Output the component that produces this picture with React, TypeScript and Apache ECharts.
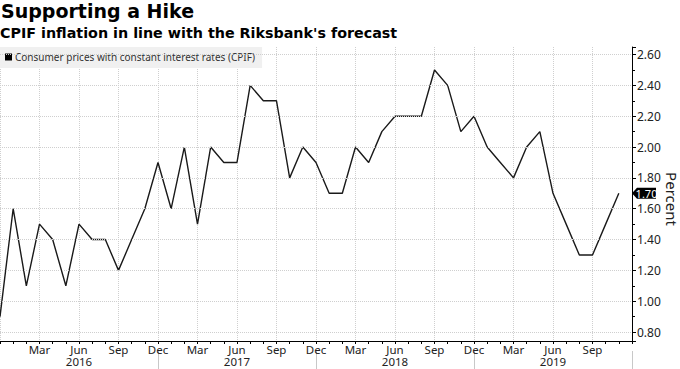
import React, { useEffect, useRef } from "react";
import * as echarts from "echarts";

const TITLE = "Supporting a Hike";
const SUBTITLE = "CPIF inflation in line with the Riksbank's forecast";
const SERIES_NAME = "Consumer prices with constant interest rates (CPIF)";
const Y_NAME = "Percent";

const MONTH_NAMES = ["Jan", "Feb", "Mar", "Apr", "May", "Jun", "Jul", "Aug", "Sep", "Oct", "Nov", "Dec"];
// Axis runs Dec 2015 .. Dec 2019 (49 monthly slots)
const START_YEAR = 2015;
const START_MONTH = 11;
const SLOT_COUNT = 49;
const months: string[] = [];
for (let i = 0; i < SLOT_COUNT; i++) {
  const m = (START_MONTH + i) % 12;
  const y = START_YEAR + Math.floor((START_MONTH + i) / 12);
  months.push(MONTH_NAMES[m] + " " + y);
}

// CPIF, Dec 2015 .. Nov 2019
const cpif = [
  0.9, 1.6, 1.1, 1.5, 1.4, 1.1, 1.5, 1.4, 1.4, 1.2, 1.4, 1.6,
  1.9, 1.6, 2.0, 1.5, 2.0, 1.9, 1.9, 2.4, 2.3, 2.3, 1.8, 2.0,
  1.9, 1.7, 1.7, 2.0, 1.9, 2.1, 2.2, 2.2, 2.2, 2.5, 2.4, 2.1,
  2.2, 2.0, 1.9, 1.8, 2.0, 2.1, 1.7, 1.5, 1.3, 1.3, 1.5, 1.7,
];

const yTicks = [0.8, 1.0, 1.2, 1.4, 1.6, 1.8, 2.0, 2.2, 2.4, 2.6];
const Y_MIN = 0.742;
const Y_MAX = 2.649;

export default function App() {
  const ref = useRef<HTMLDivElement>(null);

  useEffect(() => {
    if (!ref.current) return;
    const chart = echarts.init(ref.current, undefined, { renderer: "svg" });
    const last = cpif[cpif.length - 1];
    const font = "Noto Sans";

    chart.setOption({
      animation: false,
      backgroundColor: "#fff",
      textStyle: { fontFamily: font },
      title: [
        {
          text: TITLE,
          left: 1,
          top: 1,
          padding: 0,
          textStyle: { fontFamily: "DejaVu Sans", fontWeight: "bold", fontSize: 19, color: "#000" },
        },
        {
          text: SUBTITLE,
          left: 0,
          top: 26,
          padding: 0,
          textStyle: { fontFamily: "DejaVu Sans", fontWeight: "bold", fontSize: 14.3, color: "#000" },
        },
      ],
      legend: {
        left: 0,
        top: 47,
        padding: [5, 7, 6, 5],
        backgroundColor: "#f0f0f0",
        icon: "rect",
        itemWidth: 7,
        itemHeight: 7,
        itemGap: 4,
        textStyle: { fontFamily: font, fontSize: 10, color: "#333", padding: [0, 0, 0, -2] },
        data: [SERIES_NAME],
      },
      grid: {
        left: 0,
        right: 48,
        top: 47,
        bottom: 28,
        containLabel: false,
        outerBoundsMode: "none",
      },
      xAxis: [
        {
          type: "category",
          data: months,
          boundaryGap: false,
          axisLine: { show: true, lineStyle: { color: "#000", width: 1 } },
          axisTick: { show: true, interval: 0, length: 3, lineStyle: { color: "#000" } },
          axisLabel: {
            interval: (i: number) => i > 0 && i < SLOT_COUNT - 1 && i % 3 === 0,
            formatter: (v: string) => v.split(" ")[0],
            fontSize: 11.5,
            lineHeight: 11,
            color: "#222",
            margin: 3,
          },
          splitLine: {
            show: true,
            interval: (i: number) => i % 3 === 0,
            lineStyle: { type: "dotted", color: "#cfcfcf", width: 1 },
          },
        },
        {
          type: "category",
          data: months,
          boundaryGap: false,
          position: "bottom",
          offset: 10,
          axisLine: { show: false },
          axisTick: {
            show: true,
            interval: (i: number) => i > 0 && i % 12 === 0,
            length: 18,
            lineStyle: { color: "#c8c8c8" },
          },
          axisLabel: {
            interval: (i: number) => i % 12 === 6,
            formatter: (v: string) => v.split(" ")[1],
            fontSize: 11.5,
            lineHeight: 11,
            color: "#222",
            margin: 5,
          },
          splitLine: { show: false },
        },
      ],
      yAxis: {
        type: "value",
        position: "right",
        min: Y_MIN,
        max: Y_MAX,
        splitNumber: 10,
        axisLine: { show: true, lineStyle: { color: "#000", width: 1 } },
        axisTick: { show: true, length: 4, lineStyle: { color: "#000" } },
        minorTick: { show: true, splitNumber: 2, length: 3, lineStyle: { color: "#000" } },
        axisLabel: {
          formatter: (v: number) => v.toFixed(2),
          fontSize: 12,
          color: "#222",
          margin: 5,
          showMinLabel: false,
          showMaxLabel: false,
        },
        splitLine: { show: false },
      },
      series: [
        {
          name: SERIES_NAME,
          type: "line",
          data: cpif,
          xAxisIndex: 0,
          symbol: "none",
          color: "#000",
          lineStyle: { color: "#1a1a1a", width: 1.4 },
          markLine: {
            silent: true,
            symbol: ["none", "none"],
            label: { show: false },
            lineStyle: { type: "dotted", color: "#cfcfcf", width: 1 },
            data: yTicks.map((v) => ({ yAxis: v })),
          },
        },
      ],
    });

    // End-value tag on the right axis, positioned through the chart's own scales
    const pt = chart.convertToPixel({ xAxisIndex: 0, yAxisIndex: 0 }, [SLOT_COUNT - 1, last]) as number[];
    const graphics: any[] = [
      {
        type: "text",
        x: 672,
        y: 199,
        rotation: -Math.PI / 2,
        silent: true,
        style: {
          text: Y_NAME,
          fill: "#222",
          fontSize: 15,
          fontFamily: font,
          align: "center",
          verticalAlign: "middle",
        },
      },
    ];
    if (pt && isFinite(pt[0]) && isFinite(pt[1])) {
      graphics.push({
        type: "group",
        x: pt[0],
        y: pt[1],
        silent: true,
        z: 100,
        children: [
          {
            type: "polygon",
            shape: { points: [[0, 0], [5, -5.5], [24, -5.5], [24, 5.5], [5, 5.5]] },
            style: { fill: "#000" },
          },
          {
            type: "text",
            x: 14.5,
            y: 0.5,
            style: {
              text: last.toFixed(2),
              fill: "#fff",
              fontSize: 11,
              fontFamily: font,
              align: "center",
              verticalAlign: "middle",
            },
          },
        ],
      });
    }
    chart.setOption({ graphic: graphics });

    return () => chart.dispose();
  }, []);

  return (
    <div
      ref={ref}
      style={{ position: "fixed", left: 0, top: 0, width: 680, height: 369 }}
    />
  );
}
